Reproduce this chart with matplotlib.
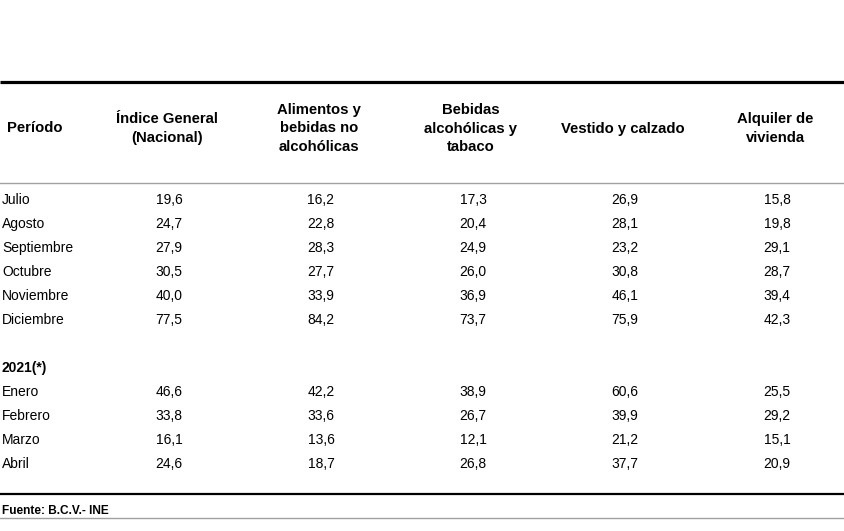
import matplotlib
matplotlib.use("Agg")
import matplotlib.pyplot as plt

plt.rcParams['font.family'] = ['Liberation Sans', 'DejaVu Sans']

columns = ["Índice General\n(Nacional)", "Alimentos y\nbebidas no\nalcohólicas",
           "Bebidas\nalcohólicas y\ntabaco", "Vestido y calzado", "Alquiler de\nvivienda"]
period_header = "Período"

months_2020 = ["Julio", "Agosto", "Septiembre", "Octubre", "Noviembre", "Diciembre"]
indice_2020 = [19.6, 24.7, 27.9, 30.5, 40.0, 77.5]
alimentos_2020 = [16.2, 22.8, 28.3, 27.7, 33.9, 84.2]
bebidas_2020 = [17.3, 20.4, 24.9, 26.0, 36.9, 73.7]
vestido_2020 = [26.9, 28.1, 23.2, 30.8, 46.1, 75.9]
alquiler_2020 = [15.8, 19.8, 29.1, 28.7, 39.4, 42.3]

year_label = "2021(*)"
months_2021 = ["Enero", "Febrero", "Marzo", "Abril"]
indice_2021 = [46.6, 33.8, 16.1, 24.6]
alimentos_2021 = [42.2, 33.6, 13.6, 18.7]
bebidas_2021 = [38.9, 26.7, 12.1, 26.8]
vestido_2021 = [60.6, 39.9, 21.2, 37.7]
alquiler_2021 = [25.5, 29.2, 15.1, 20.9]

source = "Fuente: B.C.V.- INE"

W, H = 844, 531
fig = plt.figure(figsize=(W / 100, H / 100), dpi=100)
ax = fig.add_axes([0, 0, 1, 1])
ax.set_xlim(0, W)
ax.set_ylim(H, 0)
ax.axis('off')

col_x = [169, 321, 473, 625, 777]
fs = 10
hfs = 10.7

def fmt(v):
    return f"{v:.1f}".replace(".", ",")

# rules
ax.plot([0, W], [81.5, 81.5], color='black', lw=2.3, solid_capstyle='butt')
ax.plot([0, W], [183, 183], color='#a0a0a0', lw=1.0)
ax.plot([0, W], [494, 494], color='black', lw=1.6, solid_capstyle='butt')
ax.plot([0, W], [518, 518], color='#a0a0a0', lw=1.0)

# header
header_y = 128.5
ax.text(7, header_y, period_header, fontsize=hfs, fontweight='bold', ha='left', va='center')
for x, c in zip(col_x, columns):
    ax.text(x - 2, header_y, c, fontsize=hfs, fontweight='bold', ha='center', va='center',
            multialignment='center', linespacing=1.42)

row_h = 24
def draw_rows(y0, labels, series):
    for i, lab in enumerate(labels):
        y = y0 + i * row_h
        ax.text(2, y, lab, fontsize=fs, ha='left', va='center')
        for x, s in zip(col_x, series):
            ax.text(x, y, fmt(s[i]), fontsize=fs, ha='center', va='center')

draw_rows(200, months_2020, [indice_2020, alimentos_2020, bebidas_2020, vestido_2020, alquiler_2020])
ax.text(2, 368, year_label, fontsize=fs, fontweight='bold', ha='left', va='center')
draw_rows(392, months_2021, [indice_2021, alimentos_2021, bebidas_2021, vestido_2021, alquiler_2021])

ax.text(2, 510.5, source, fontsize=8.6, fontweight='bold', ha='left', va='center',
        family=['Liberation Sans Narrow', 'Liberation Sans', 'DejaVu Sans'])

fig.savefig("out.png", dpi=100)
